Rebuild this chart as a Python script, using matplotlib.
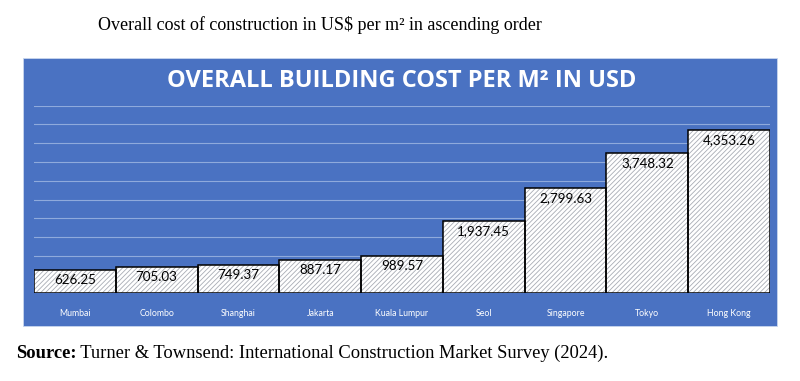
import matplotlib.pyplot as plt
from matplotlib.patches import Rectangle

cities = ["Mumbai", "Colombo", "Shanghai", "Jakarta", "Kuala Lumpur",
          "Seol", "Singapore", "Tokyo", "Hong Kong"]
cost = [626.25, 705.03, 749.37, 887.17, 989.57,
        1937.45, 2799.63, 3748.32, 4353.26]
grid_ticks = [500, 1000, 1500, 2000, 2500, 3000, 3500, 4000, 4500, 5000]

PANEL = "#4a72c2"
GRID = "#8faadc"

plt.rcParams["hatch.linewidth"] = 0.6

fig = plt.figure(figsize=(8, 3.81), dpi=100)
fig.patch.set_facecolor("white")

# blue chart panel
fig.add_artist(Rectangle((0.02875, 0.1444), 0.9425, 0.7034,
                         transform=fig.transFigure, fc=PANEL,
                         ec="#c9d6ee", lw=0.6, zorder=0))

ax = fig.add_axes([0.0425, 0.230, 0.92, 0.4926])
ax.set_facecolor("none")
x = range(len(cities))
ax.bar(x, cost, width=1.0, color="white", edgecolor="#a8acb4",
       hatch="///////", linewidth=0, zorder=2)
ax.bar(x, cost, width=1.0, fill=False, edgecolor="black",
       linewidth=1.1, zorder=3)
for xi, v in zip(x, cost):
    ax.annotate(f"{v:,.2f}", (xi, v), xytext=(0, -3),
                textcoords="offset points", ha="center", va="top",
                fontsize=9.6, family="Lato", color="black", zorder=4)

ax.set_xlim(-0.5, len(cities) - 0.5)
ax.set_ylim(0, 5000)
for g in grid_ticks:
    ax.axhline(g, color=GRID, lw=0.8, zorder=1)
ax.set_yticks([])
ax.set_xticks(list(x))
ax.set_xticklabels(cities, fontsize=6.3, family="Lato", color="white")
ax.tick_params(axis="x", length=0, pad=11)
for s in ax.spines.values():
    s.set_visible(False)

fig.text(0.5025, 1 - 81 / 381, "OVERALL BUILDING COST PER M² IN USD",
         ha="center", va="center", color="white", fontsize=17,
         family="Open Sans", weight="bold")

fig.text(98 / 800, 1 - 25 / 381,
         "Overall cost of construction in US$ per m² in ascending order",
         ha="left", va="center", fontsize=13, family="Liberation Serif")

src = fig.text(16 / 800, 1 - 353 / 381, "Source:", ha="left",
               va="center", fontsize=13.3, family="Liberation Serif",
               weight="bold")
ax.annotate(" Turner & Townsend: International Construction Market Survey (2024).",
            xy=(1, 0.5), xycoords=src, ha="left", va="center",
            fontsize=13.3, family="Liberation Serif", annotation_clip=False)

fig.savefig("out.png", dpi=100)
